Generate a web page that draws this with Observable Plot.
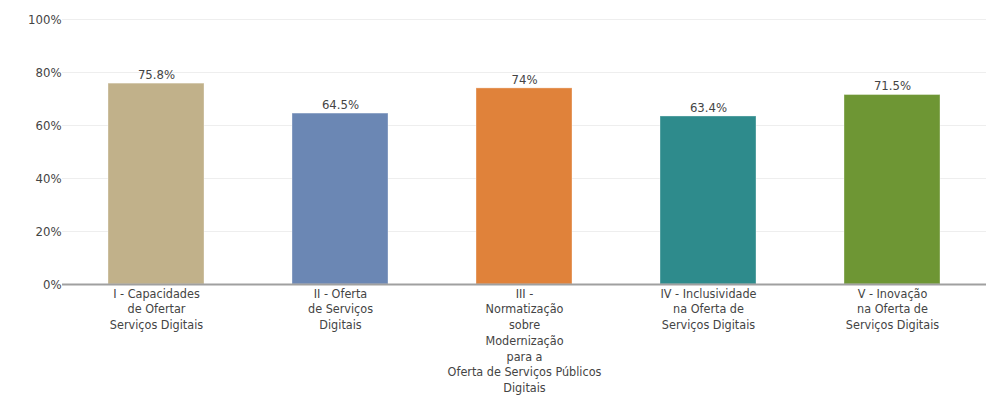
<!DOCTYPE html>
<html><head><meta charset="utf-8">
<script src="https://cdn.jsdelivr.net/npm/d3@7"></script>
<script src="https://cdn.jsdelivr.net/npm/@observablehq/plot@0.6"></script>
<style>
body{margin:0;background:#fff;}
#chart svg{font-family:"DejaVu Sans Condensed","DejaVu Sans",sans-serif;}
</style>
</head><body><div id="chart"></div>
<script>
const categories = [
  "I - Capacidades\nde Ofertar\nServiços Digitais",
  "II - Oferta\nde Serviços\nDigitais",
  "III -\nNormatização\nsobre\nModernização\npara a\nOferta de Serviços Públicos\nDigitais",
  "IV - Inclusividade\nna Oferta de\nServiços Digitais",
  "V - Inovação\nna Oferta de\nServiços Digitais"
];
const values = [75.8, 64.5, 74, 63.4, 71.5];
const colors = ["#c1b18a", "#6b87b4", "#e0823a", "#2e8b8c", "#6e9634"];
const yTicks = [0, 20, 40, 60, 80, 100];

const data = categories.map((c, i) => ({cat: c, value: values[i], color: colors[i]}));

const chart = Plot.plot({
  width: 1005,
  height: 420,
  marginLeft: 62,
  marginRight: 19,
  marginTop: 19,
  marginBottom: 136,
  style: {fontSize: "12px", color: "#444"},
  x: {domain: categories, paddingInner: 0.48, paddingOuter: 0.24, label: null},
  y: {domain: [0, 100], label: null},
  marks: [
    Plot.gridY(yTicks.filter(d => d > 0), {stroke: "#eeeeee", strokeOpacity: 1, strokeWidth: 1}),
    Plot.barY(data, {x: "cat", y: "value", fill: "color", stroke: "#ffffff", strokeOpacity: 0.35, strokeWidth: 1}),
    Plot.ruleY([0], {stroke: "#a0a0a0", strokeWidth: 2}),
    Plot.text(data, {x: "cat", y: "value", text: d => d.value + "%", dy: -9, fill: "#444", fontSize: 13}),
    Plot.axisY({ticks: yTicks, tickFormat: d => d + "%", tickSize: 0, tickPadding: 1, fontSize: 13, fill: "#444"}),
    Plot.axisX({tickSize: 0, tickPadding: 2, lineHeight: 1.26, fontSize: 12.5, fill: "#444", textAnchor: "middle"})
  ]
});
document.getElementById("chart").appendChild(chart);
</script>
</body></html>
